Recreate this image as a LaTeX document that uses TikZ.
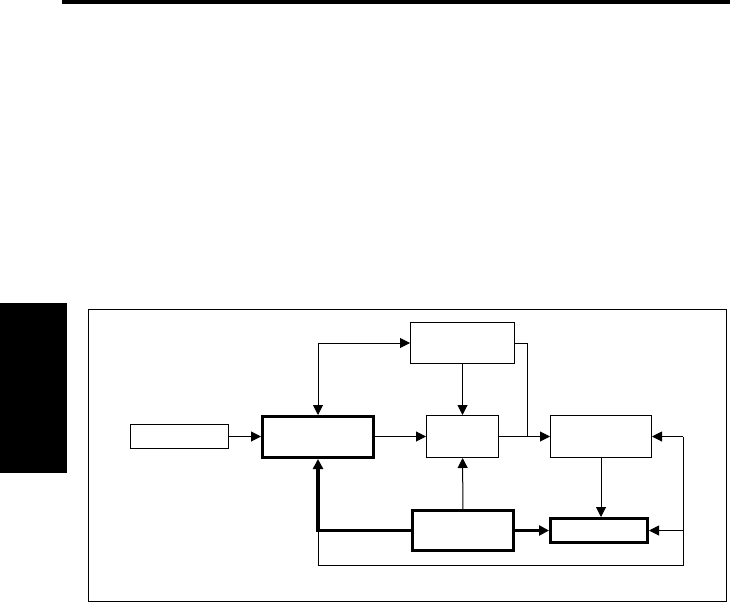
\documentclass[tikz,border=0pt]{standalone}
\usetikzlibrary{arrows.meta}
\begin{document}
\begin{tikzpicture}[x=1pt,y=-1pt,
  thinbox/.style={draw,line width=1pt,inner sep=0pt,fill=white},
  thickbox/.style={draw,line width=3.3pt,inner sep=0pt,fill=white},
  conn/.style={line width=1pt},
  arr/.style={line width=1pt,-{Triangle[length=10pt,width=10pt]}},
  arrboth/.style={line width=1pt,{Triangle[length=10pt,width=10pt]}-{Triangle[length=10pt,width=10pt]}},
  thickarr/.style={line width=3.3pt,-{Triangle[length=10pt,width=10pt]}},
  thickline/.style={line width=3.3pt}]
\useasboundingbox (0,0) rectangle (730,604);
% page decorations
\fill (62,0) rectangle (730,4);
\fill (0,303) rectangle (67,473);
\draw[line width=1pt] (88,309) rectangle (726,601);
% nodes
\node[thinbox,minimum width=98pt,minimum height=24pt] (in) at (179.5,436.5) {};
\node[thickbox,minimum width=110.7pt,minimum height=40.7pt] (main) at (318,437) {};
\node[thinbox,minimum width=104pt,minimum height=41pt] (top) at (462.5,343) {};
\node[thinbox,minimum width=72pt,minimum height=42pt] (mid) at (462.5,436.5) {};
\node[thinbox,minimum width=101pt,minimum height=42pt] (right) at (601,436.5) {};
\node[thickbox,minimum width=100.7pt,minimum height=39.7pt] (bm) at (463,530.5) {};
\node[thickbox,minimum width=96.7pt,minimum height=23.7pt] (br) at (599,530.5) {};
\coordinate (j) at (527,436.5);
\coordinate (fr) at (683,565);
% connectors
\draw[arr] (in.east) -- (main.west |- in.east);
\draw[arrboth] (top.west) -- (main.north |- top.west) -- (main.north);
\draw[arr] (top) -- (mid);
\draw[arr] (main.east |- mid.west) -- (mid.west);
\draw[arr] (mid) -- (right);
\draw[conn] (top.east) -| (j);
\draw[arr] (right.south) -- (right.south |- br.north);
\draw[arr] (bm) -- (mid);
\draw[thickarr] (bm) -- (br);
\draw[conn] (main.south |- bm.west) -- (main.south |- fr) -- (fr) -- (fr |- right.east);
\draw[arr] (fr |- right.east) -- (right.east);
\draw[arr] (fr |- br.east) -- (br.east);
\draw[thickarr] (bm.west) -| (main.south);
\end{tikzpicture}
\end{document}
